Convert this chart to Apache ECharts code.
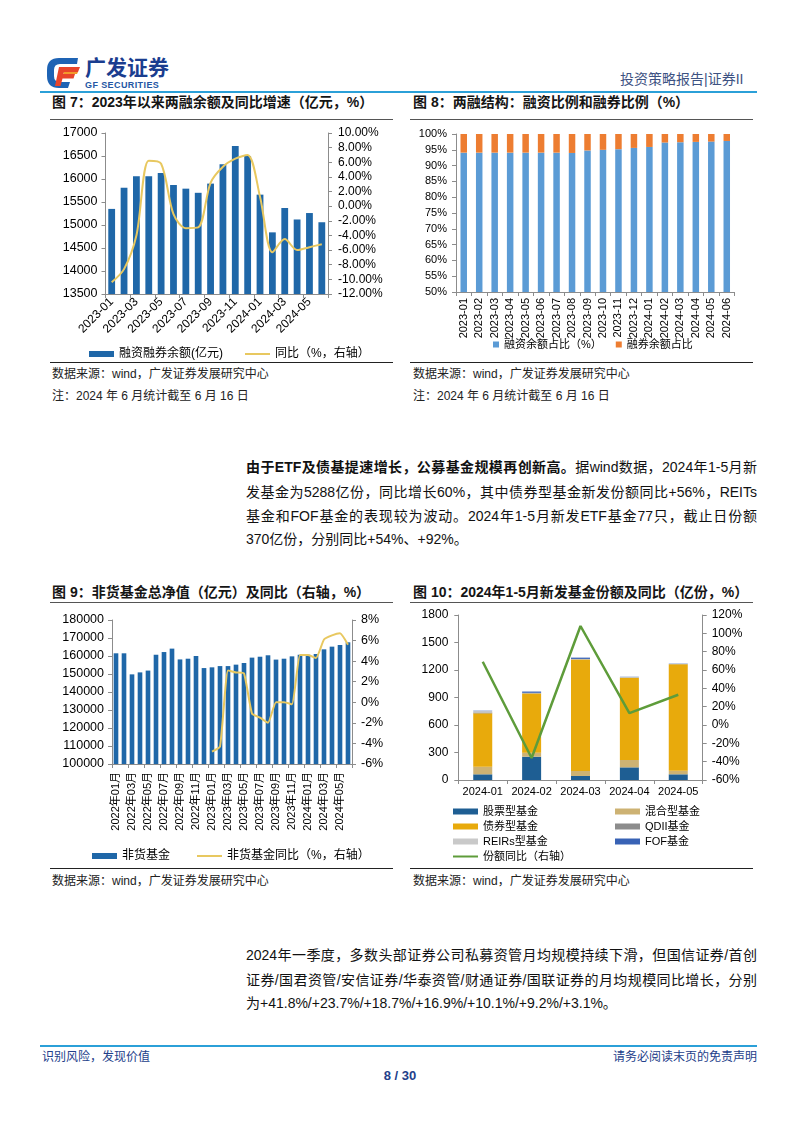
<!DOCTYPE html>
<html><head><meta charset="utf-8">
<script src="https://cdn.jsdelivr.net/npm/echarts@6/dist/echarts.min.js"></script>
<style>
html,body{margin:0;padding:0;background:#fff;}
body{width:802px;height:1133px;position:relative;overflow:hidden;font-family:"Liberation Sans","Noto Sans CJK SC",sans-serif;color:#111;}
.a{position:absolute;white-space:nowrap;}
.title{font-weight:bold;font-size:14px;color:#151515;line-height:16px;}
.hr{position:absolute;height:0;}
.src{font-size:12px;color:#222;line-height:14px;}
.pl{position:absolute;left:246px;width:511px;font-size:14px;line-height:20px;color:#111;text-align:justify;text-align-last:justify;}
.pl.last{text-align-last:left;}
.chart{position:absolute;}
</style></head>
<body>
<!-- header -->
<svg class="a" style="left:44px;top:55px" width="38" height="36" viewBox="0 0 38 36">
  <path d="M34 3 L15 3 Q3 3 3 15 L3 21 Q3 33 15 33 L24 33 L26 27 L16 27 Q10 27 10 21 L10 15 Q10 9 16 9 L33 9 Z" fill="#1E63B4"/>
  <path d="M15 12 L36 12 L34 17 L20 17 L19.5 19 L31 19 L29.5 23.5 L18.5 23.5 L16.5 31 L11 31 Z" fill="#E8452B"/>
  <path d="M20 17 L34 17 L33 19 L19.5 19 Z" fill="#F39A2B"/>
</svg>
<div class="a" style="left:85px;top:56px;font-size:21px;font-weight:bold;color:#1A3D8F;line-height:24px;">广发证券</div>
<div class="a" style="left:85px;top:80px;font-size:9px;font-weight:bold;color:#2456A4;letter-spacing:0.4px;line-height:10px;">GF SECURITIES</div>
<div class="a" style="left:620px;top:71px;font-size:14px;color:#3D5282;line-height:17px;">投资策略报告|证券II</div>
<div class="hr" style="left:40px;top:91px;width:717px;border-top:2px solid #2BA0D8;"></div>

<!-- chart titles row 1 -->
<div class="a title" style="left:52px;top:94px;">图 7：2023年以来两融余额及同比增速（亿元，%）</div>
<div class="a title" style="left:413px;top:94px;">图 8：两融结构：融资比例和融券比例（%）</div>
<div class="hr" style="left:50px;top:119px;width:343px;border-top:1px solid #555;"></div>
<div class="hr" style="left:410px;top:119px;width:343px;border-top:1px solid #555;"></div>
<div id="c7" class="chart" style="left:45px;top:120px;width:350px;height:240px;"></div>
<div id="c8" class="chart" style="left:410px;top:120px;width:350px;height:240px;"></div>
<div class="hr" style="left:50px;top:362px;width:343px;border-top:1.5px solid #222;"></div>
<div class="hr" style="left:410px;top:362px;width:343px;border-top:1.5px solid #222;"></div>
<div class="a src" style="left:52px;top:367px;">数据来源：wind，广发证券发展研究中心</div>
<div class="a src" style="left:413px;top:367px;">数据来源：wind，广发证券发展研究中心</div>
<div class="a src" style="left:52px;top:389px;">注：2024 年 6 月统计截至 6 月 16 日</div>
<div class="a src" style="left:413px;top:389px;">注：2024 年 6 月统计截至 6 月 16 日</div>

<!-- paragraph 1 -->
<div class="pl" style="top:457px;"><b>由于ETF及债基提速增长，公募基金规模再创新高。</b>据wind数据，2024年1-5月新</div>
<div class="pl" style="top:482px;">发基金为5288亿份，同比增长60%，其中债券型基金新发份额同比+56%，REITs</div>
<div class="pl" style="top:506px;">基金和FOF基金的表现较为波动。2024年1-5月新发ETF基金77只，截止日份额</div>
<div class="pl last" style="top:529px;">370亿份，分别同比+54%、+92%。</div>

<!-- chart titles row 2 -->
<div class="a title" style="left:52px;top:584px;">图 9：非货基金总净值（亿元）及同比（右轴，%）</div>
<div class="a title" style="left:413px;top:584px;width:344px;overflow:hidden;">图 10：2024年1-5月新发基金份额及同比（亿份，%）</div>
<div class="hr" style="left:50px;top:602px;width:343px;border-top:1px solid #555;"></div>
<div class="hr" style="left:410px;top:602px;width:343px;border-top:1px solid #555;"></div>
<div id="c9" class="chart" style="left:45px;top:605px;width:350px;height:262px;"></div>
<div id="c10" class="chart" style="left:410px;top:605px;width:350px;height:262px;"></div>
<div class="hr" style="left:50px;top:868px;width:343px;border-top:1.5px solid #222;"></div>
<div class="hr" style="left:410px;top:868px;width:343px;border-top:1.5px solid #222;"></div>
<div class="a src" style="left:52px;top:874px;">数据来源：wind，广发证券发展研究中心</div>
<div class="a src" style="left:413px;top:874px;">数据来源：wind，广发证券发展研究中心</div>

<!-- paragraph 2 -->
<div class="pl" style="top:945px;">2024年一季度，多数头部证券公司私募资管月均规模持续下滑，但国信证券/首创</div>
<div class="pl" style="top:970px;">证券/国君资管/安信证券/华泰资管/财通证券/国联证券的月均规模同比增长，分别</div>
<div class="pl last" style="top:993px;">为+41.8%/+23.7%/+18.7%/+16.9%/+10.1%/+9.2%/+3.1%。</div>

<!-- footer -->
<div class="hr" style="left:40px;top:1045px;width:717px;border-top:2px solid #2BA0D8;"></div>
<div class="a" style="left:42px;top:1050px;font-size:12px;color:#23408A;line-height:14px;">识别风险，发现价值</div>
<div class="a" style="right:45px;top:1050px;font-size:12px;color:#23408A;line-height:14px;">请务必阅读末页的免责声明</div>
<div class="a" style="left:380px;top:1068px;width:40px;text-align:center;font-size:13px;font-weight:bold;color:#23408A;line-height:15px;">8 / 30</div>

<script>
// ---------- Chart 7 data ----------
const c7Months = ['2023-01','2023-02','2023-03','2023-04','2023-05','2023-06','2023-07','2023-08','2023-09','2023-10','2023-11','2023-12','2024-01','2024-02','2024-03','2024-04','2024-05','2024-06'];
const c7Balance = [15350,15810,16060,16060,16130,15870,15790,15700,15900,16320,16720,16500,15660,14840,15370,15120,15260,15060];
const c7Yoy = [-10.4,-8.6,-4.0,6.2,5.8,-1.1,-3.0,-2.9,3.2,5.4,6.5,7.0,1.3,-6.3,-4.5,-6.0,-5.6,-5.2];

// ---------- Chart 8 data ----------
const c8Months = ['2023-01','2023-02','2023-03','2023-04','2023-05','2023-06','2023-07','2023-08','2023-09','2023-10','2023-11','2023-12','2024-01','2024-02','2024-03','2024-04','2024-05','2024-06'];
const c8Fin = [94.1,94.1,94.1,94.1,94.1,94.1,94.1,94.0,94.8,95.0,95.2,95.6,95.9,97.3,97.4,97.5,97.6,97.8];
const c8Sec = [5.9,5.9,5.9,5.9,5.9,5.9,5.9,6.0,5.2,5.0,4.8,4.4,4.1,2.7,2.6,2.5,2.4,2.2];

// ---------- Chart 9 data ----------
const c9Months = ['2022年01月','2022年02月','2022年03月','2022年04月','2022年05月','2022年06月','2022年07月','2022年08月','2022年09月','2022年10月','2022年11月','2022年12月',
 '2023年01月','2023年02月','2023年03月','2023年04月','2023年05月','2023年06月','2023年07月','2023年08月','2023年09月','2023年10月','2023年11月','2023年12月',
 '2024年01月','2024年02月','2024年03月','2024年04月','2024年05月','2024年06月'];
const c9Nav = [161500,161500,149800,150900,151900,160700,162200,164100,158100,158500,160000,153300,
 153700,154400,154400,155200,156100,159100,159600,160400,158000,158500,159800,160700,
 160700,161100,163700,165200,166100,167600];
const c9Yoy = [null,null,null,null,null,null,null,null,null,null,null,null,
 -4.8,-4.3,3.1,2.9,2.8,-1.1,-1.5,-2.0,0.0,0.0,-0.2,4.6,
 4.6,4.3,6.1,6.5,6.7,5.6];

// ---------- Chart 10 data ----------
const c10Months = ['2024-01','2024-02','2024-03','2024-04','2024-05'];
const c10Stock = [62,254,44,138,62];
const c10Mixed = [83,44,54,80,39];
const c10Bond = [582,647,1217,897,1162];
const c10QDII = [10,4,3,3,2];
const c10REITs = [15,2,3,5,2];
const c10FOF = [4,14,14,3,3];
const c10Yoy = [69,-36,108,13,33];

const FONT = '"Liberation Sans","Noto Sans CJK SC",sans-serif';
const NARROW = '"Liberation Sans Narrow","Liberation Sans","Noto Sans CJK SC",sans-serif';
const AX = '#8c8c8c';
const plain = v => String(v);
function axisCommon(extra){
  return Object.assign({
    axisLine:{show:true,onZero:false,lineStyle:{color:AX,width:1}},
    axisTick:{show:true,length:4,lineStyle:{color:AX}},
    splitLine:{show:false}
  }, extra);
}
function leg(name, left, top, isLine, fs){
  return {left:left, top:top, itemWidth:25, itemHeight:isLine?2:6, icon:'rect', itemGap:0,
    textStyle:{fontSize:fs,color:'#000',fontFamily:FONT}, data:[name]};
}

// Chart 7
echarts.init(document.getElementById('c7')).setOption({
  animation:false,
  grid:{left:60.5,right:67,top:13,bottom:66},
  legend:[leg('融资融券余额(亿元)',39,223,false,12), leg('同比（%，右轴）',195,223,true,12)],
  xAxis:axisCommon({type:'category',data:c7Months,
    axisLabel:{rotate:45,interval:1,fontSize:12,color:'#000',margin:6,fontFamily:FONT}}),
  yAxis:[
    axisCommon({type:'value',min:13500,max:17000,interval:500,
      axisLabel:{fontSize:12.5,color:'#000',margin:8,fontFamily:FONT,formatter:plain}}),
    axisCommon({type:'value',position:'right',min:-12,max:10,interval:2,
      axisLabel:{fontSize:12,color:'#000',margin:10,fontFamily:FONT,formatter:v=>v.toFixed(2)+'%'}})
  ],
  series:[
    {name:'融资融券余额(亿元)',type:'bar',data:c7Balance,barWidth:'55%',itemStyle:{color:'#1F67A8'}},
    {name:'同比（%，右轴）',type:'line',yAxisIndex:1,data:c7Yoy,symbol:'none',smooth:0.3,
      lineStyle:{color:'#E8C860',width:2},itemStyle:{color:'#E8C860'}}
  ]
});

// Chart 8
echarts.init(document.getElementById('c8')).setOption({
  animation:false,
  grid:{left:46,right:25.5,top:14,bottom:68},
  legend:{left:78,top:214,itemWidth:6,itemHeight:6,itemGap:14,icon:'rect',
    textStyle:{fontSize:11,color:'#000',fontFamily:FONT},
    data:['融资余额占比（%）','融券余额占比']},
  xAxis:axisCommon({type:'category',data:c8Months,
    axisLabel:{rotate:90,interval:0,fontSize:11,color:'#000',margin:6,fontFamily:NARROW}}),
  yAxis:axisCommon({type:'value',min:50,max:100,interval:5,
    axisLabel:{fontSize:11,color:'#000',margin:9,fontFamily:NARROW,formatter:'{value}%'}}),
  series:[
    {name:'融资余额占比（%）',type:'bar',stack:'s',data:c8Fin,barWidth:6.5,itemStyle:{color:'#5B9BD5'}},
    {name:'融券余额占比',type:'bar',stack:'s',data:c8Sec,barWidth:6.5,itemStyle:{color:'#ED7D31'}}
  ]
});

// Chart 9
echarts.init(document.getElementById('c9')).setOption({
  animation:false,
  grid:{left:67,right:43,top:15,bottom:103},
  legend:[leg('非货基金',42,240,false,12), leg('非货基金同比（%，右轴）',147,240,true,12)],
  xAxis:axisCommon({type:'category',data:c9Months,
    axisLabel:{rotate:90,interval:1,fontSize:11,color:'#000',margin:8,fontFamily:FONT}}),
  yAxis:[
    axisCommon({type:'value',min:100000,max:180000,interval:10000,
      axisLabel:{fontSize:12.5,color:'#000',margin:8,fontFamily:FONT,formatter:plain}}),
    axisCommon({type:'value',position:'right',min:-6,max:8,interval:2,
      axisLabel:{fontSize:12.5,color:'#000',margin:9,fontFamily:FONT,formatter:'{value}%'}})
  ],
  series:[
    {name:'非货基金',type:'bar',data:c9Nav,barWidth:'58%',itemStyle:{color:'#1F67A8'}},
    {name:'非货基金同比（%，右轴）',type:'line',yAxisIndex:1,data:c9Yoy,symbol:'none',smooth:0.15,
      lineStyle:{color:'#E8C860',width:2},itemStyle:{color:'#E8C860'}}
  ]
});

// Chart 10
echarts.init(document.getElementById('c10')).setOption({
  animation:false,
  grid:{left:48.3,right:57.3,top:10,bottom:87},
  legend:[
    leg('股票型基金',38,196,false,11), leg('混合型基金',200,196,false,11),
    leg('债券型基金',38,211,false,11), leg('QDII基金',200,211,false,11),
    leg('REIRs型基金',38,226,false,11), leg('FOF基金',200,226,false,11),
    leg('份额同比（右轴）',38,241,true,11)
  ],
  xAxis:axisCommon({type:'category',data:c10Months,
    axisLabel:{interval:0,fontSize:11,color:'#000',margin:6,fontFamily:FONT}}),
  yAxis:[
    axisCommon({type:'value',min:0,max:1800,interval:300,
      axisLabel:{fontSize:12,color:'#000',margin:10,fontFamily:FONT,formatter:plain}}),
    axisCommon({type:'value',position:'right',min:-60,max:120,interval:20,
      axisLabel:{fontSize:12,color:'#000',margin:9,fontFamily:FONT,formatter:'{value}%'}})
  ],
  series:[
    {name:'股票型基金',type:'bar',stack:'f',data:c10Stock,barWidth:19,itemStyle:{color:'#1E5E93'}},
    {name:'混合型基金',type:'bar',stack:'f',data:c10Mixed,barWidth:19,itemStyle:{color:'#CDB273'}},
    {name:'债券型基金',type:'bar',stack:'f',data:c10Bond,barWidth:19,itemStyle:{color:'#E8AA0C'}},
    {name:'QDII基金',type:'bar',stack:'f',data:c10QDII,barWidth:19,itemStyle:{color:'#8C8C8C'}},
    {name:'REIRs型基金',type:'bar',stack:'f',data:c10REITs,barWidth:19,itemStyle:{color:'#C9C9C9'}},
    {name:'FOF基金',type:'bar',stack:'f',data:c10FOF,barWidth:19,itemStyle:{color:'#3862B5'}},
    {name:'份额同比（右轴）',type:'line',yAxisIndex:1,data:c10Yoy,symbol:'none',
      lineStyle:{color:'#5E9C3A',width:2.5},itemStyle:{color:'#5E9C3A'}}
  ]
});
</script>
</body></html>
